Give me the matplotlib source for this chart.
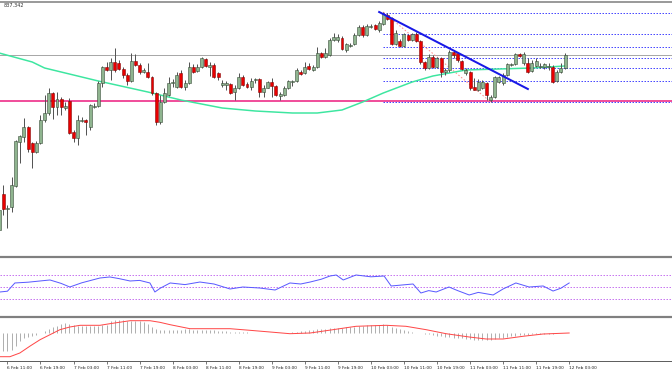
import matplotlib
matplotlib.use("Agg")
import matplotlib.pyplot as plt

W, H = 672, 372

# hourly candles, values are rows of the price pane (0 = top, 256 = bottom)
opens = [230, 194, 208, 207, 186, 142, 137, 127, 143, 152,
         143, 120, 113, 93, 107, 99, 108, 101, 132, 138,
         120, 120, 127, 106, 106, 83, 67, 70, 62, 63,
         69, 75, 81, 61, 65, 72, 72, 77, 93, 122,
         102, 95, 83, 87, 73, 87, 83, 67, 71, 67,
         59, 67, 65, 73, 85, 85, 84, 92, 88, 77,
         84, 87, 79, 79, 92, 88, 82, 86, 96, 95,
         88, 81, 81, 72, 73, 66, 70, 67, 53, 57,
         55, 40, 40, 38, 50, 45, 44, 35, 27, 35,
         26, 25, 30, 24, 15, 18, 44, 41, 46, 35,
         40, 34, 41, 62, 68, 57, 67, 58, 72, 70,
         52, 53, 61, 73, 72, 87, 90, 88, 83, 100,
         97, 82, 83, 75, 64, 64, 54, 63, 63, 71,
         66, 66, 67, 66, 67, 81, 72, 68]
closes = [210, 209, 208, 185, 141, 136, 127, 149, 152, 143,
          120, 113, 93, 107, 99, 107, 106, 133, 138, 120,
          120, 122, 105, 106, 83, 67, 70, 62, 70, 69,
          75, 81, 61, 65, 72, 70, 77, 93, 122, 102,
          93, 83, 82, 75, 87, 83, 67, 72, 67, 58,
          66, 65, 77, 77, 83, 83, 93, 88, 77, 85,
          87, 81, 79, 92, 88, 82, 86, 95, 94, 88,
          81, 81, 70, 74, 67, 69, 67, 53, 57, 53,
          40, 37, 37, 49, 44, 45, 35, 27, 35, 26,
          26, 29, 23, 14, 19, 44, 33, 46, 34, 40,
          34, 41, 62, 68, 57, 67, 58, 72, 70, 52,
          55, 60, 69, 70, 88, 90, 82, 82, 95, 97,
          77, 77, 75, 64, 64, 54, 56, 54, 72, 63,
          61, 66, 64, 66, 82, 72, 68, 55]
highs = [205, 185, 205, 177, 140, 135, 118, 126, 142, 141,
         115, 95, 88, 92, 92, 97, 102, 98, 130, 115,
         117, 119, 104, 103, 81, 66, 62, 58, 48, 60,
         67, 73, 53, 54, 63, 68, 63, 76, 92, 95,
         88, 77, 79, 72, 70, 80, 62, 64, 64, 57,
         58, 62, 63, 72, 80, 81, 83, 85, 73, 75,
         82, 78, 78, 78, 85, 81, 78, 85, 92, 86,
         80, 80, 68, 70, 62, 63, 65, 47, 52, 48,
         38, 33, 34, 36, 43, 43, 33, 25, 25, 24,
         24, 24, 21, 12, 13, 17, 30, 39, 33, 34,
         33, 32, 40, 61, 54, 55, 57, 57, 68, 50,
         50, 52, 60, 68, 71, 78, 79, 80, 82, 95,
         76, 76, 73, 63, 63, 53, 53, 52, 58, 60,
         58, 63, 63, 63, 65, 70, 63, 53]
lows = [237, 215, 228, 212, 187, 163, 142, 152, 168, 153,
        144, 122, 115, 119, 115, 115, 110, 134, 142, 145,
        122, 135, 130, 108, 107, 87, 71, 80, 72, 70,
        78, 85, 82, 66, 74, 73, 78, 95, 125, 124,
        103, 96, 87, 88, 88, 90, 84, 73, 72, 68,
        67, 76, 78, 80, 87, 90, 94, 100, 89, 86,
        88, 90, 83, 97, 97, 88, 97, 96, 100, 96,
        89, 86, 82, 75, 74, 70, 71, 68, 58, 58,
        56, 41, 42, 50, 52, 47, 45, 36, 37, 36,
        28, 30, 32, 25, 20, 45, 45, 47, 47, 41,
        41, 42, 64, 70, 69, 68, 68, 77, 75, 72,
        58, 62, 70, 75, 90, 90, 91, 89, 100, 102,
        98, 83, 85, 76, 66, 65, 57, 65, 73, 72,
        67, 68, 69, 70, 83, 82, 73, 69]

# moving average read at a few bars
ma_bar = [0, 8, 11, 24, 36, 44, 54, 62, 71, 77, 83, 88, 93, 100, 105, 109, 113, 121, 129, 137]
ma_val = [53, 62, 68, 81, 92, 100, 108, 111, 113, 113, 110, 102, 93, 82, 76, 73, 70, 69, 68, 66]

bid_level = 55
support_level = 101
trend_bar = [92, 128]
trend_val = [12, 89]
fib_start = 93
fib_levels = [13, 34, 47, 58, 68, 81, 102]
swing_bar = [93, 119]
swing_val = [12, 102]

# RSI
rsi_bar = [0.2, 2, 3.8, 7, 12.3, 15, 17.1, 20, 24.4, 26.8, 29, 31.7, 34, 36.5, 37.7, 39,
           41.4, 45, 48.6, 52, 55.9, 59, 63.1, 66.8, 70.4, 73, 75.3, 78, 80.1, 81.6,
           83.3, 86.4, 90, 93.2, 94.9, 97, 100.2, 102.1, 104, 105.8, 108.9, 111,
           113.8, 116, 119.6, 122, 125.1, 128.3, 131.7, 134.1, 136, 138]
rsi_val = [41.7, 43, 56.7, 58, 61.7, 56, 50, 57, 65, 66.7, 64, 60, 61, 56.7, 41.7, 48,
           56.7, 54, 58.3, 55, 46.7, 50, 48.3, 45, 56.7, 55, 58.3, 63, 68.3, 70,
           61.7, 70, 67, 68.3, 51.7, 53, 55, 40, 44, 41.7, 50, 44,
           36.7, 41, 36.7, 46.7, 56.7, 50, 51.7, 43.3, 48, 56.7]
rsi_levels = [70, 50, 30]

# MACD histogram (one per bar) and signal line
macd_hist = [-18, -18, -18, -17, -13, -8, -4.5, -3.5, -2.5, -1.5,
             0, 2, 4, 6, 7.5, 9, 10, 9, 8, 7.5,
             7, 7, 7, 7, 7.5, 8, 8, 12, 13, 13,
             13, 12.5, 12.5, 12, 12, 11, 9, 6, 4, 3,
             3, 3.5, 3.5, 3.5, 3.5, 4, 4, 3.5, 3.5, 3.5,
             3.5, 3, 3, 2.5, 2, 2, 1.5, 1.5, 1.5, 1,
             1, 0.5, 0.5, 0.5, 0, 0, 0, 0, 0, 0.5,
             0.5, 1, 1.5, 2, 2, 3, 3, 4, 4, 4.5,
             5, 5, 5, 5, 6, 6, 6.5, 7, 7.5, 8,
             8, 8.5, 8.5, 9, 8, 6, 5, 4, 3, 2.5,
             1.5, 0.5, 0, -0.5, -1, -1.5, -2.5, -3, -3.5, -4,
             -4.5, -5, -5, -5.5, -6, -6.5, -6.5, -6.5, -7, -7,
             -6, -5, -4.5, -3.5, -3, -2.5, -2, -1.5, -1.5, -1,
             -1, -0.5, -0.5, -0.5, -0.5, 0, 0, 0]
sig_bar = [0.2, 2.6, 5.0, 7.5, 9.9, 12.3, 14.7, 17.1, 19.6, 24.4, 26.8, 31.7, 36.5, 38.9,
           41.4, 46.2, 55.9, 60.7, 65.6, 70.4, 75.3, 80.8, 86.4, 93.7, 98.5, 103.4,
           108.2, 113.8, 117.9, 122, 126.8, 131.7, 138]
sig_val = [-23.7, -23.7, -20, -13, -6.7, -1.7, 3.3, 6, 7.7, 7.7, 9.3, 12.3, 12.3, 10.7,
           8.3, 4.3, 4.3, 2.7, 1, -0.7, 0, 3.3, 6.7, 7.7, 6.7, 3.3,
           -0.7, -4, -6, -6, -3.3, -1, 0]

tick_bars = [2 + 8 * j for j in range(18)]
tick_labels = ["6 Feb 11:00", "6 Feb 19:00", "7 Feb 03:00", "7 Feb 11:00", "7 Feb 19:00",
               "8 Feb 03:00", "8 Feb 11:00", "8 Feb 19:00", "9 Feb 03:00", "9 Feb 11:00",
               "9 Feb 19:00", "10 Feb 03:00", "10 Feb 11:00", "10 Feb 19:00", "11 Feb 03:00",
               "11 Feb 11:00", "11 Feb 19:00", "12 Feb 03:00"]

PX = 0.72  # one pixel in points at dpi 100
XLIM = (0.2, 162.9)


def fy(y):
    return 1 - y / H


fig = plt.figure(figsize=(W / 100, H / 100), dpi=100)
fig.patch.set_facecolor("white")

ax = fig.add_axes([0, fy(256), 1, 256 / H])
rsi = fig.add_axes([0, fy(316), 1, 58 / H])
macd = fig.add_axes([0, fy(361), 1, 43 / H])

for a in (ax, rsi, macd):
    a.set_xlim(*XLIM)
    for s in a.spines.values():
        s.set_visible(False)
    a.set_yticks([])
    a.set_xticks([])
    a.patch.set_alpha(0)

# ---- price pane
ax.set_ylim(256, 0)
ax.axhline(bid_level, color="#a8a8a8", lw=PX, zorder=1)
ax.axhline(support_level, color="#f0509c", lw=2 * PX, zorder=1)
for lv in fib_levels:
    ax.plot([fib_start, XLIM[1]], [lv, lv], color="#4a4aff", lw=PX, ls=(0, (1.5, 1.5)), zorder=1)
ax.plot(swing_bar, swing_val, color="#ff8a8a", lw=PX, ls=(0, (1.5, 2)), zorder=1)
ax.plot(ma_bar, ma_val, color="#3de6a0", lw=1.5 * PX, zorder=2)

bars = list(range(len(opens)))
ax.vlines(bars, highs, lows, color="#555555", lw=PX, zorder=3)
for k, o, c in zip(bars, opens, closes):
    bull = c <= o
    h = max(abs(c - o), 0.7)
    ax.bar(k, h, bottom=min(o, c), width=0.72,
           color="#8fb48f" if bull else "#e80000",
           edgecolor="#2c3e2c" if bull else "#7a0000", lw=0.5 * PX, zorder=4)

ax.plot(trend_bar, trend_val, color="#1818e6", lw=2 * PX, zorder=5)

# ---- RSI pane
rsi.set_ylim(1.7, 98.3)
for lv in rsi_levels:
    rsi.axhline(lv, color="#c878f0", lw=PX, ls=(0, (1.5, 1.5)))
rsi.plot(rsi_bar, rsi_val, color="#5a5aff", lw=PX)

# ---- MACD pane
macd.set_ylim(-28, 15)
macd.vlines(bars, 0, macd_hist, color="#b0b0b0", lw=PX)
macd.plot(sig_bar, sig_val, color="#ff4848", lw=PX)
macd.spines["bottom"].set_visible(True)
macd.spines["bottom"].set_color("#606060")
macd.spines["bottom"].set_linewidth(PX)
macd.set_xticks(tick_bars)
macd.set_xticklabels(tick_labels, ha="left")
macd.tick_params(axis="x", direction="out", length=2, width=0.6, color="#606060",
                 labelsize=3.1, pad=1.5, labelcolor="#222222")

# separators and top border
for y, lw, col in [(1.5, 1.5, "#7a7a7a"), (257, 2.2, "#808080"), (317, 2.2, "#808080")]:
    fig.add_artist(plt.Line2D([0, 1], [fy(y), fy(y)], transform=fig.transFigure,
                              color=col, lw=lw * PX))

fig.text(4 / W, fy(5.5), "837.342", fontsize=3.6, color="#333333", va="center")

fig.savefig("out.png", dpi=100)
